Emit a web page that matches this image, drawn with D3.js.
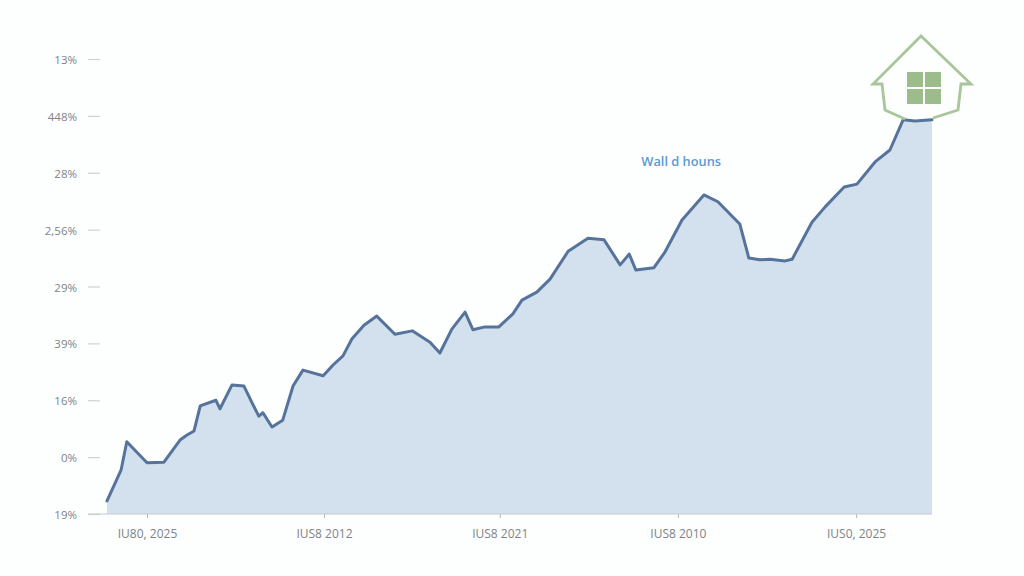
<!DOCTYPE html>
<html>
<head>
<meta charset="utf-8">
<script src="https://cdn.jsdelivr.net/npm/d3@7/dist/d3.min.js"></script>
<style>
  html, body { margin: 0; padding: 0; background: #fdfefe; }
  svg { display: block; }
  text { font-family: "Open Sans", "Liberation Sans", sans-serif; }
</style>
</head>
<body>
<div id="chart"></div>
<script>
var xValues = [0, 1.7, 2.4, 4.85, 6.9, 8.85, 9.7, 10.55, 11.3, 13.2, 13.7, 15.15, 16.6, 17.6, 18.4, 18.9, 20, 21.3, 22.55, 23.75,
  26.2, 27.4, 28.6, 29.7, 31.15, 32.7, 34.9, 37, 39.15, 40.35, 41.8, 43.4, 44.35, 45.8, 47.5, 49.2, 50.3, 52.1, 53.7, 55.9,
  58.3, 60.25, 62.2, 63.3, 64.1, 66.3, 67.65, 69.7, 72.35, 74.05, 76.7, 77.8, 79.15, 80.35, 82.2, 83.05, 85.45, 87.05, 89.35, 90.9,
  93.1, 94.9, 96.5, 97.95, 100];
var yValues = [2.3, 7.7, 12.7, 9, 9.1, 13, 13.9, 14.6, 19, 20, 18.5, 22.7, 22.5, 19.5, 17.2, 17.8, 15.3, 16.5, 22.5, 25.3,
  24.3, 26.2, 27.8, 30.8, 33.2, 34.8, 31.6, 32.2, 30.2, 28.3, 32.5, 35.5, 32.4, 32.9, 32.9, 35.2, 37.6, 39, 41.3, 46.2,
  48.5, 48.2, 43.8, 45.7, 42.9, 43.3, 46.1, 51.7, 56.1, 54.9, 51, 45, 44.7, 44.8, 44.5, 44.8, 51.3, 54, 57.5, 58,
  61.9, 64, 69.3, 69.1, 69.3];
var yTickValues = [0, 10, 20, 30, 40, 50, 60, 70, 80];
var yTickLabels = ["19%", "0%", "16%", "39%", "29%", "2,56%", "28%", "448%", "13%"];
var xTickValues = [4.85, 26.3, 47.6, 69.2, 90.8];
var xTickLabels = ["IU80, 2025", "IUS8 2012", "IUS8 2021", "IUS8 2010", "IUS0, 2025"];
var seriesLabel = "Wall d houns";

var W = 1024, H = 576;
var margin = { top: 59, right: 92, bottom: 62, left: 107 };
var iW = W - margin.left - margin.right;
var iH = H - margin.top - margin.bottom;

var svg = d3.select("#chart").append("svg").attr("width", W).attr("height", H);
var g = svg.append("g").attr("transform", "translate(" + margin.left + "," + margin.top + ")");

var x = d3.scaleLinear().domain([0, 100]).range([0, iW]);
var y = d3.scaleLinear().domain([0, 80]).range([iH, 0]);
var points = xValues.map(function (d, i) { return { x: d, y: yValues[i] }; });

// Area and line
var area = d3.area()
  .x(function (d) { return x(d.x); })
  .y0(iH)
  .y1(function (d) { return y(d.y); });
var line = d3.line()
  .x(function (d) { return x(d.x); })
  .y(function (d) { return y(d.y); });

g.append("path").datum(points).attr("fill", "#d3e1ee").attr("d", area);
g.append("path").datum(points)
  .attr("fill", "none").attr("stroke", "#56739c").attr("stroke-width", 3)
  .attr("stroke-linejoin", "round").attr("stroke-linecap", "round")
  .attr("d", line);

// Axes
var gY = g.append("g").attr("transform", "translate(-7,0)")
  .call(d3.axisLeft(y).tickValues(yTickValues).tickSize(12)
    .tickFormat(function (d, i) { return yTickLabels[i]; }));
gY.select(".domain").remove();
gY.selectAll("line").attr("stroke", "#cfd2d4").attr("stroke-width", 1.2);
gY.selectAll("text").attr("fill", "#808388").attr("x", -23).attr("dy", "0.4em").style("font-size", "11.5px");

var gX = g.append("g").attr("transform", "translate(0," + iH + ")")
  .call(d3.axisBottom(x).tickValues(xTickValues).tickSize(4)
    .tickFormat(function (d, i) { return xTickLabels[i]; }));
gX.select(".domain").remove();
gX.selectAll("line").attr("stroke", "#b4b8bc");
gX.selectAll("text").attr("fill", "#808388").attr("y", 15).style("font-size", "12px");
g.append("line").attr("x1", -19).attr("x2", iW).attr("y1", iH).attr("y2", iH)
  .attr("stroke", "#c6cace").attr("stroke-width", 1.2);

// Series label
g.append("text").attr("x", x(69.6)).attr("y", y(61.2))
  .attr("text-anchor", "middle").attr("fill", "#5b9bd0")
  .style("font-size", "12.8px").style("font-weight", "600")
  .text(seriesLabel);

// House icon, origin at the apex
var house = svg.append("g").attr("transform", "translate(921,36)");
house.append("path")
  .attr("d", "M-16,83 L-36,74 L-39,48 L-48,48 L0,0 L50,48 L40,48 L37,74 L12,82")
  .attr("fill", "none").attr("stroke", "#a8c699").attr("stroke-width", 2.8)
  .attr("stroke-linejoin", "miter");
[[-14, 36], [4, 36], [-14, 53], [4, 53]].forEach(function (p) {
  house.append("rect").attr("x", p[0]).attr("y", p[1])
    .attr("width", 16).attr("height", 15).attr("fill", "#9dbc8c");
});
</script>
</body>
</html>
